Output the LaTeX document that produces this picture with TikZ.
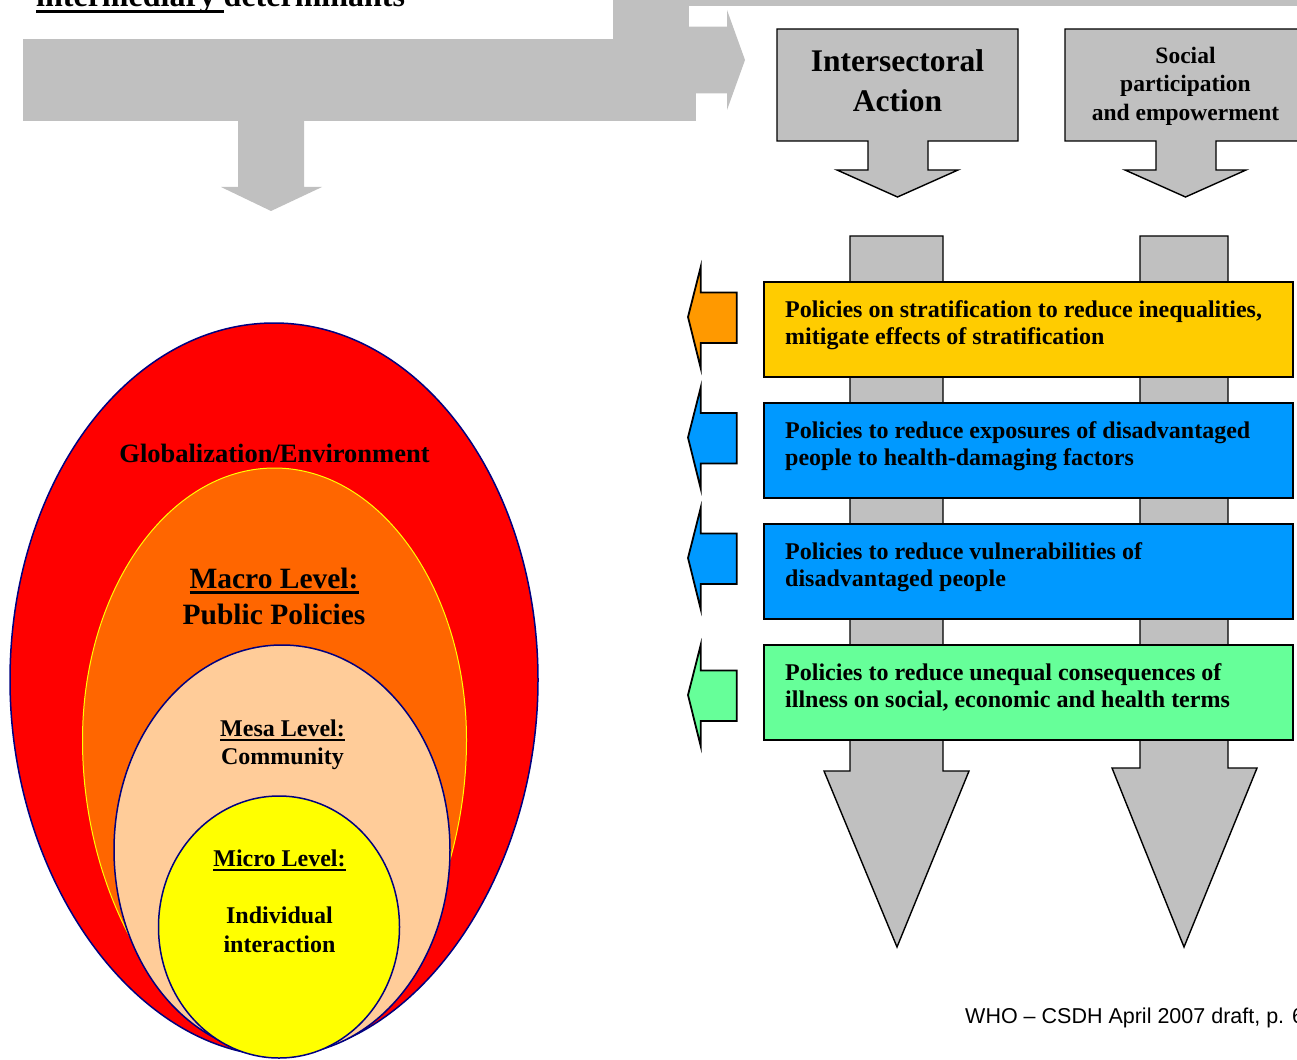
\documentclass[tikz,border=0pt]{standalone}
\usepackage{fontspec}
\setmainfont{Liberation Serif}
\newfontfamily\arialfont{Liberation Sans}
\newcommand\myul[1]{\setbox0\hbox{#1}\rlap{\rule[-0.19em]{\wd0}{0.075em}}\box0}
\definecolor{grayc}{HTML}{C0C0C0}
\definecolor{ycol}{HTML}{FFCC00}
\definecolor{bcol}{HTML}{0099FF}
\definecolor{gcol}{HTML}{66FF99}
\definecolor{ocol}{HTML}{FF9900}
\definecolor{navyc}{HTML}{000080}
\definecolor{redc}{HTML}{FF0000}
\definecolor{orc}{HTML}{FF6600}
\definecolor{peach}{HTML}{FFCC99}
\definecolor{yelc}{HTML}{FFFF00}
\begin{document}
\begin{tikzpicture}[x=1pt,y=-1pt,
  graybig/.style={fill=grayc},
  callout/.style={fill=grayc, draw=black, line width=1.4pt, line join=miter},
  pbox/.style={draw=black, line width=1.6pt, minimum width=529pt, minimum height=95pt, inner sep=0pt},
  sarrow/.style={draw=black, line width=1.8pt, line join=miter},
  ptext/.style={inner sep=0pt, anchor=base west, font=\bfseries\fontsize{24}{27}\selectfont},
  etext/.style={inner sep=0pt, anchor=base, font=\bfseries\fontsize{24}{27}\selectfont},
  egg/.style={draw=navyc, line width=1.5pt}
]
\useasboundingbox (0,0) rectangle (1297,1059);
\clip (0,0) rectangle (1297,1059);

% ---- top text (cut by the page edge, as in the reference)
\node[inner sep=0pt, anchor=base west, font=\bfseries\fontsize{32}{36}\selectfont] (toptext) at (36,6.5) {\myul{intermediary }determinants};

% ---- large gray arrows at top left
\fill[graybig] (23,39) rectangle (696,121);
\fill[graybig] (613,0) rectangle (689,40);
\fill[graybig] (613,0) rectangle (1297,5.7);
\fill[graybig] (689,26.7) -- (727,26.7) -- (727,10) -- (745,60) -- (727,110) -- (727,93.3) -- (689,93.3) -- cycle;
\fill[graybig] (238,120) -- (304,120) -- (304,187) -- (322,187) -- (271,211) -- (221,187) -- (238,187) -- cycle;

% ---- callouts
\draw[callout] (777,29) -- (1018,29) -- (1018,141) -- (928,141) -- (928,170) -- (958,170) -- (897.5,197) -- (837,170) -- (868,170) -- (868,141) -- (777,141) -- cycle;
\draw[callout] (1065,29) -- (1306,29) -- (1306,141) -- (1216,141) -- (1216,170) -- (1246,170) -- (1185.5,197) -- (1125,170) -- (1156,170) -- (1156,141) -- (1065,141) -- cycle;
\node[inner sep=0pt, anchor=base, font=\bfseries\fontsize{31.5}{36}\selectfont] (ia1) at (897.5,71.7) {Intersectoral};
\node[inner sep=0pt, anchor=base, font=\bfseries\fontsize{31.5}{36}\selectfont] (ia2) at (897.5,111.5) {Action};
\node[inner sep=0pt, anchor=base, font=\bfseries\fontsize{23.5}{27}\selectfont] (sp1) at (1185.5,63.5) {Social};
\node[inner sep=0pt, anchor=base, font=\bfseries\fontsize{23.5}{27}\selectfont] (sp2) at (1185.5,92) {participation};
\node[inner sep=0pt, anchor=base, font=\bfseries\fontsize{23.5}{27}\selectfont] (sp3) at (1185.5,120.5) {and empowerment};

% ---- long vertical arrows
\draw[callout] (850,236) -- (943,236) -- (943,771) -- (969,771) -- (897,947) -- (824,771) -- (850,771) -- cycle;
\draw[callout] (1140,236) -- (1228,236) -- (1228,768) -- (1257,768) -- (1184,947) -- (1112,768) -- (1140,768) -- cycle;

% ---- policy boxes
\node[pbox, fill=ycol] (b1) at (1028.5,329.5) {};
\node[pbox, fill=bcol] (b2) at (1028.5,450.5) {};
\node[pbox, fill=bcol] (b3) at (1028.5,571.5) {};
\node[pbox, fill=gcol] (b4) at (1028.5,692.5) {};
\node[ptext] (t1a) at (785,317) {Policies on stratification to reduce inequalities,};
\node[ptext] (t1b) at (785,344) {mitigate effects of stratification};
\node[ptext] (t2a) at (785,438) {Policies to reduce exposures of disadvantaged};
\node[ptext] (t2b) at (785,465) {people to health-damaging factors};
\node[ptext] (t3a) at (785,559) {Policies to reduce vulnerabilities of};
\node[ptext] (t3b) at (785,586) {disadvantaged people};
\node[ptext] (t4a) at (785,680) {Policies to reduce unequal consequences of};
\node[ptext] (t4b) at (785,707) {illness on social, economic and health terms};

% ---- small left arrows
\foreach \T/\c in {267/ocol, 387.5/bcol, 508/bcol, 645/gcol}{
  \draw[sarrow, fill=\c] (688,\T+50) -- (700.7,\T) -- (700.7,\T+25.5) -- (736.7,\T+25.5) -- (736.7,\T+76) -- (700.7,\T+76) -- (700.7,\T+101) -- cycle;
}

% ---- nested levels
\filldraw[egg, fill=redc] (276.5,1056) .. controls (135,1052) and (10,880) .. (10,680)
  .. controls (10,482.8) and (128.2,323) .. (274,323)
  .. controls (419.8,323) and (538,482.8) .. (538,680)
  .. controls (538,880) and (413,1052) .. (276.5,1056) -- cycle;
\filldraw[draw=yelc, line width=1pt, fill=orc] (276.5,1056) .. controls (170,1045) and (82.5,900) .. (82.5,740)
  .. controls (82.5,589.8) and (168.5,468) .. (274.5,468)
  .. controls (380.5,468) and (466.5,589.8) .. (466.5,740)
  .. controls (466.5,900) and (379,1045) .. (276.5,1056) -- cycle;
\filldraw[egg, fill=peach] (282,850) ellipse [x radius=168, y radius=205];
\filldraw[egg, fill=yelc] (279,927) ellipse [x radius=120.5, y radius=131];

\node[etext, font=\bfseries\fontsize{26.5}{30}\selectfont] (glob) at (274.5,462) {Globalization/Environment};
\node[etext, font=\bfseries\fontsize{29.5}{34}\selectfont] (mac1) at (274,588) {\myul{Macro Level:}};
\node[etext, font=\bfseries\fontsize{29.5}{34}\selectfont] (mac2) at (274,624) {Public Policies};
\node[etext] (mes1) at (282.5,736.7) {\myul{Mesa Level:}};
\node[etext] (mes2) at (282.5,764) {Community};
\node[etext] (mic1) at (279.5,866.7) {\myul{Micro Level:}};
\node[etext] (mic2) at (279.5,923.5) {Individual};
\node[etext] (mic3) at (279.5,952) {interaction};

% ---- footer (cut at the right edge, as in the reference)
\node[inner sep=0pt, anchor=base west, font=\arialfont\fontsize{21.5}{25}\selectfont] (foot) at (965,1023) {WHO – CSDH April 2007 draft, p. 6};
\end{tikzpicture}
\end{document}
